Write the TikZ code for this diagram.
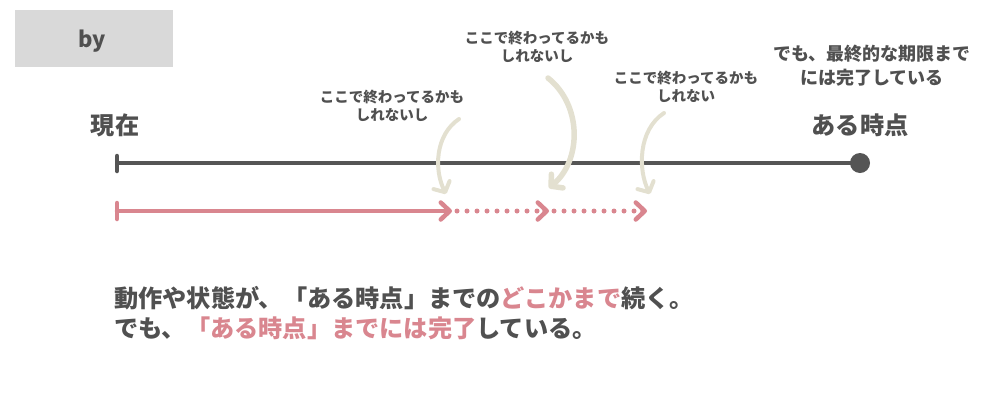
\documentclass[tikz,border=0pt]{standalone}
\usepackage{fontspec}
\setmainfont{Noto Sans CJK JP}
\usetikzlibrary{arrows.meta}
\definecolor{txt}{HTML}{505050}
\definecolor{axis}{HTML}{555555}
\definecolor{pinkc}{HTML}{D9868F}
\definecolor{beige}{HTML}{E3E0D0}
\definecolor{boxg}{HTML}{D9D9D9}
\tikzset{
  big/.style={font=\fontsize{24.2}{30}\selectfont\bfseries, text=txt, inner sep=0pt},
  small/.style={font=\fontsize{14.5}{18}\selectfont\bfseries, text=txt, align=center, inner sep=0pt},
  mid/.style={font=\fontsize{18}{24}\selectfont\bfseries, text=txt, align=center, inner sep=0pt},
  chev/.style={-{Straight Barb[length=9pt,width=17pt,line cap=round,line join=round]}},
  pinkline/.style={draw=pinkc, line width=4.5pt, line cap=round},
  dots/.style={draw=pinkc, line width=5pt, line cap=round, dash pattern=on 0pt off 10pt},
  hint/.style={draw=beige, line cap=round, -{Straight Barb[length=8pt,width=18pt,line cap=round,line join=round]}},
}
\begin{document}
\begin{tikzpicture}[x=1pt,y=-1pt]
\useasboundingbox (0,0) rectangle (1000,400);
% title box
\node[fill=boxg, minimum width=158pt, minimum height=57pt, inner sep=0pt] (box) at (94,38.5) {};
\node[font=\fontsize{22}{24}\selectfont\bfseries, text=txt, inner sep=0pt] (by) at (92,41) {by};
% timeline
\node[big] (now) at (115,125) {現在};
\node[big] (pt) at (860,125) {ある時点};
\coordinate (a0) at (117,163);
\node[circle, fill=axis, minimum size=20pt, inner sep=0pt] (end) at (860,163) {};
\draw[axis, line width=4.5pt] (a0) -- (end.center);
\draw[axis, line width=4.5pt, line cap=round] (117,156) -- (117,171);
% pink arrows
\coordinate (p0) at (117,211);
\coordinate (p1) at (452,211);
\coordinate (p2) at (549,211);
\coordinate (p3) at (647,211);
\draw[pinkline] (117,203) -- (117,219);
\draw[pinkline, chev] (p0) -- (p1);
\draw[dots] ([xshift=5pt]p1) -- ([xshift=-6pt]p2);
\draw[pinkline, chev] ([xshift=-3pt]p2) -- (p2);
\draw[dots] ([xshift=5pt]p2) -- ([xshift=-6pt]p3);
\draw[pinkline, chev] ([xshift=-3pt]p3) -- (p3);
% labels
\node[small] (l1) at (392,106) {ここで終わってるかも\\しれないし};
\node[small] (l2) at (537,47) {ここで終わってるかも\\しれないし};
\node[small] (l3) at (686,87) {ここで終わってるかも\\しれない};
\node[mid] (l4) at (872,66) {でも、最終的な期限まで\\には完了している};
% hint arrows
\coordinate (h1s) at (459,119);
\coordinate (h1e) at (446,194);
\coordinate (h2s) at (548,78);
\coordinate (h2e) at (549,188);
\coordinate (h3s) at (664,113);
\coordinate (h3e) at (650,194);
\draw[hint, line width=4pt] (h1s) .. controls (435,135) and (434,170) .. (h1e);
\draw[hint, line width=5.5pt] (h2s) .. controls (582,105) and (582,160) .. (h2e);
\draw[hint, line width=4pt] (h3s) .. controls (638,130) and (638,170) .. (h3e);
% bottom text
\node[big, anchor=west] (t1) at (114,298) {動作や状態が、「ある時点」までの\textcolor{pinkc}{どこかまで}続く。};
\node[big, anchor=west] (t2) at (114,328) {でも、\textcolor{pinkc}{「ある時点」までには完了}している。};
\end{tikzpicture}
\end{document}
